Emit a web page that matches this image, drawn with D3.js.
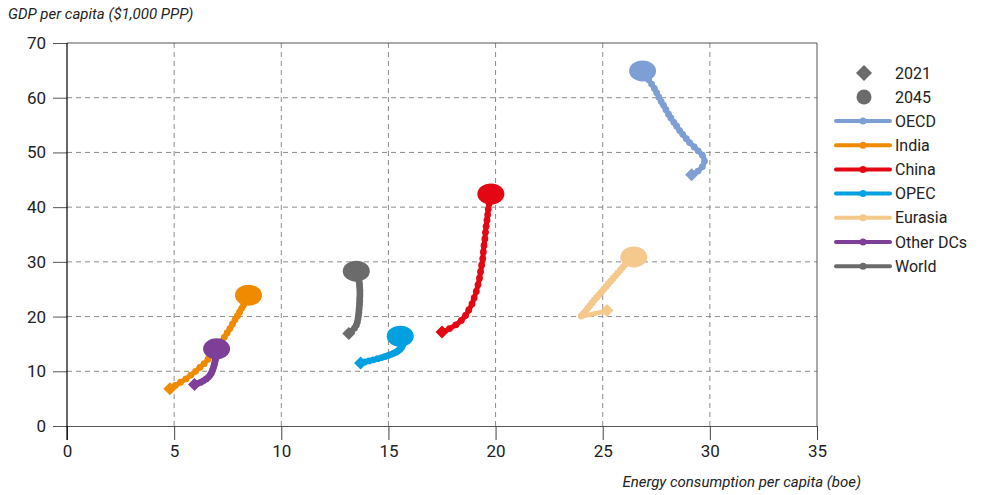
<!DOCTYPE html>
<html><head><meta charset="utf-8">
<script src="https://cdn.jsdelivr.net/npm/d3@7"></script>
<style>body{margin:0;background:#fff}svg{display:block}text{font-family:Roboto,"Noto Sans",sans-serif}</style>
</head><body>
<script>
const years = d3.range(2021, 2046);
const seriesNames = ["OECD","India","China","OPEC","Eurasia","Other DCs","World"];
const seriesColors = ["#7e9fd5","#f08a00","#e30613","#00a0e1","#f5c98c","#7d3f98","#6b6b6b"];
const xTicks = [0,5,10,15,20,25,30,35];
const yTicks = [0,10,20,30,40,50,60,70];
const xTitle = "Energy consumption per capita (boe)";
const yTitle = "GDP per capita ($1,000 PPP)";
const legendYears = ["2021","2045"];

const oecdX = [29.15,29.45,29.65,29.75,29.65,29.45,29.27,29.05,28.9,28.73,28.59,28.45,28.32,28.18,28.07,27.95,27.84,27.73,27.62,27.52,27.41,27.28,27.14,27.0,26.86];
const oecdY = [45.9,46.6,47.4,48.4,49.5,50.3,51.0,51.8,52.5,53.3,54.0,54.8,55.5,56.3,57.0,57.8,58.6,59.3,60.1,60.9,61.7,62.5,63.3,64.1,64.9];
const indiaX = [4.8,5.05,5.3,5.55,5.78,6.0,6.2,6.4,6.58,6.75,6.9,7.05,7.2,7.34,7.47,7.6,7.72,7.84,7.95,8.05,8.15,8.24,8.32,8.4,8.47];
const indiaY = [6.8,7.4,8.0,8.6,9.3,10.0,10.7,11.4,12.2,13.0,13.8,14.6,15.4,16.2,17.0,17.8,18.6,19.4,20.1,20.8,21.5,22.1,22.7,23.3,23.9];
const chinaX = [17.5,17.85,18.15,18.4,18.6,18.75,18.9,19.0,19.1,19.18,19.25,19.3,19.35,19.4,19.43,19.46,19.5,19.53,19.56,19.6,19.63,19.66,19.7,19.73,19.78];
const chinaY = [17.2,17.8,18.5,19.3,20.2,21.2,22.3,23.4,24.6,25.8,27.0,28.2,29.4,30.6,31.8,33.0,34.2,35.4,36.5,37.6,38.6,39.6,40.6,41.5,42.4];
const opecX = [13.7,13.9,14.1,14.3,14.5,14.68,14.85,15.0,15.13,15.25,15.36,15.45,15.53,15.59,15.63,15.66,15.68,15.69,15.69,15.68,15.66,15.63,15.6,15.57,15.55];
const opecY = [11.5,11.7,11.9,12.1,12.3,12.5,12.7,12.9,13.1,13.3,13.5,13.75,14.0,14.25,14.5,14.75,15.0,15.25,15.5,15.7,15.9,16.05,16.2,16.3,16.4];
const eurasiaX = [25.2,24.0,24.1,24.2,24.3,24.4,24.5,24.6,24.72,24.83,24.94,25.05,25.16,25.27,25.38,25.49,25.6,25.71,25.82,25.93,26.04,26.15,26.25,26.35,26.45];
const eurasiaY = [21.1,20.1,20.55,21.0,21.5,22.0,22.5,23.0,23.5,24.0,24.5,25.0,25.5,26.0,26.5,27.0,27.5,28.0,28.5,29.0,29.5,29.9,30.3,30.6,30.9];
const otherX = [5.95,6.1,6.25,6.38,6.5,6.6,6.68,6.74,6.78,6.82,6.85,6.88,6.9,6.92,6.93,6.94,6.95,6.96,6.97,6.97,6.98,6.98,6.98,6.98,6.98];
const otherY = [7.6,7.8,8.0,8.3,8.6,8.95,9.3,9.7,10.1,10.5,10.9,11.3,11.7,12.0,12.3,12.6,12.9,13.1,13.3,13.5,13.7,13.8,13.9,14.0,14.1];
const worldX = [13.15,13.3,13.42,13.5,13.55,13.58,13.6,13.62,13.63,13.64,13.65,13.66,13.66,13.67,13.67,13.67,13.66,13.65,13.64,13.62,13.6,13.58,13.55,13.52,13.5];
const worldY = [16.9,17.4,17.9,18.4,19.0,19.6,20.2,20.8,21.3,21.8,22.3,22.8,23.3,23.8,24.3,24.8,25.3,25.8,26.2,26.6,27.0,27.3,27.7,28.0,28.3];

const seriesX = [oecdX,indiaX,chinaX,opecX,eurasiaX,otherX,worldX];
const seriesY = [oecdY,indiaY,chinaY,opecY,eurasiaY,otherY,worldY];

const W = 984, H = 495;
const L = 67, R = 817, T = 43, B = 426;
const svg = d3.select("body").append("svg").attr("width", W).attr("height", H);
const x = d3.scaleLinear().domain([0,35]).range([L,R]);
const y = d3.scaleLinear().domain([0,70]).range([B,T]);

// gridlines
const grid = svg.append("g");
grid.selectAll(".vg").data(xTicks.filter(d => d>0 && d<35)).enter().append("line")
  .attr("x1", d=>x(d)).attr("x2", d=>x(d)).attr("y1", T).attr("y2", B)
  .attr("stroke", "#8c8c8c").attr("stroke-width", 1).attr("stroke-dasharray", "5,4");
grid.selectAll(".hg").data(yTicks.filter(d => d>0 && d<70)).enter().append("line")
  .attr("x1", L).attr("x2", R).attr("y1", d=>y(d)).attr("y2", d=>y(d))
  .attr("stroke", "#8c8c8c").attr("stroke-width", 1).attr("stroke-dasharray", "5,4");
// frame top/right
svg.append("line").attr("x1", L).attr("x2", R).attr("y1", y(70)).attr("y2", y(70)).attr("stroke", "#555").attr("stroke-width", 1);
svg.append("line").attr("x1", x(35)).attr("x2", x(35)).attr("y1", T).attr("y2", B).attr("stroke", "#555").attr("stroke-width", 1);

// axes
const xAxis = svg.append("g").attr("transform", `translate(0,${B})`)
  .call(d3.axisBottom(x).tickValues(xTicks).tickSize(14).tickPadding(5).tickSizeOuter(0));
xAxis.select(".domain").attr("stroke", "#555");
xAxis.selectAll(".tick line").attr("stroke", "#444");
xAxis.selectAll("text").attr("font-size", 17).attr("fill", "#222");
const yAxis = svg.append("g").attr("transform", `translate(${L},0)`)
  .call(d3.axisLeft(y).tickValues(yTicks).tickSize(14).tickPadding(7).tickSizeOuter(0));
yAxis.select(".domain").remove();
yAxis.selectAll(".tick line").attr("stroke", "#555");
yAxis.selectAll("text").attr("font-size", 17).attr("fill", "#222");
svg.append("line").attr("x1", L).attr("x2", L).attr("y1", T).attr("y2", B+14).attr("stroke", "#000").attr("stroke-width", 1.2);

// titles
svg.append("text").attr("x", 8).attr("y", 19).attr("font-size", 15).attr("font-style", "italic").attr("fill", "#222").text(yTitle);
svg.append("text").attr("x", 861).attr("y", 487).attr("text-anchor", "end").attr("font-size", 15).attr("font-style", "italic").attr("fill", "#222").text(xTitle);

// series
const line = d3.line().x(d=>x(d[0])).y(d=>y(d[1])).curve(d3.curveCatmullRom);
seriesNames.forEach((name, i) => {
  const pts = years.map((yr, j) => [seriesX[i][j], seriesY[i][j]]);
  const g = svg.append("g");
  const c = seriesColors[i];
  g.append("path").datum(pts).attr("d", line).attr("fill", "none").attr("stroke", c).attr("stroke-width", 5).attr("stroke-linecap", "round");
  g.selectAll("circle.b").data(pts).enter().append("circle")
    .attr("cx", d=>x(d[0])).attr("cy", d=>y(d[1])).attr("r", 3.4).attr("fill", c);
  const s = pts[0];
  g.append("path").attr("d", "M0,-6.5L6.5,0L0,6.5L-6.5,0Z")
    .attr("transform", `translate(${x(s[0])},${y(s[1])})`).attr("fill", c);
  const e = pts[pts.length-1];
  g.append("ellipse").attr("cx", x(e[0])).attr("cy", y(e[1])).attr("rx", 13.5).attr("ry", 10.5).attr("fill", c);
});

// legend
const lg = svg.append("g");
const lx1 = 836, lx2 = 890, ltx = 895;
lg.append("path").attr("d", "M0,-8L8,0L0,8L-8,0Z").attr("transform", "translate(864,73)").attr("fill", "#6b6b6b");
lg.append("text").attr("x", ltx).attr("y", 73).attr("dy", "0.35em").attr("font-size", 16).attr("fill", "#222").text(legendYears[0]);
lg.append("circle").attr("cx", 864).attr("cy", 97).attr("r", 7.5).attr("fill", "#6b6b6b");
lg.append("text").attr("x", ltx).attr("y", 97).attr("dy", "0.35em").attr("font-size", 16).attr("fill", "#222").text(legendYears[1]);
seriesNames.forEach((name, i) => {
  const yy = 121 + i*24.2;
  lg.append("line").attr("x1", lx1).attr("x2", lx2).attr("y1", yy).attr("y2", yy).attr("stroke", seriesColors[i]).attr("stroke-width", 4).attr("stroke-linecap", "round");
  lg.append("circle").attr("cx", (lx1+lx2)/2).attr("cy", yy).attr("r", 3.5).attr("fill", seriesColors[i]);
  lg.append("text").attr("x", ltx).attr("y", yy).attr("dy", "0.35em").attr("font-size", 16).attr("fill", "#222").text(name);
});
</script>
</body></html>
